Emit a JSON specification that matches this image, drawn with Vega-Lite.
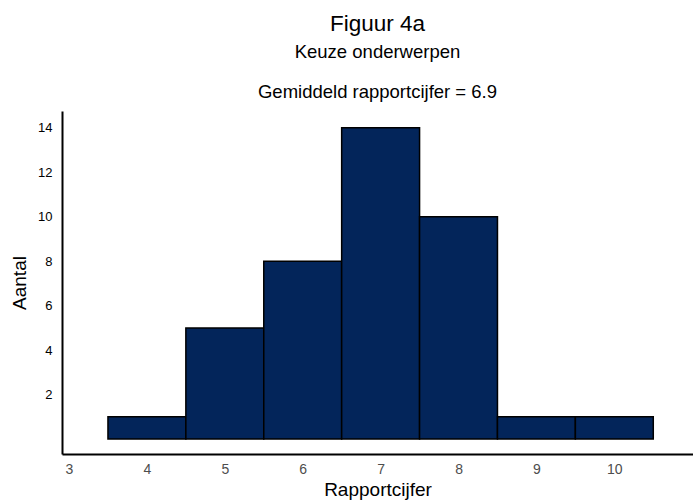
{
  "$schema": "https://vega.github.io/schema/vega-lite/v6.json",
  "width": 631,
  "height": 343,
  "autosize": {"type": "none"},
  "padding": {"left": 62, "top": 111, "right": 0, "bottom": 48},
  "background": "white",
  "config": {"view": {"stroke": null}},
  "title": {
    "text": "Figuur 4a",
    "subtitle": ["Keuze onderwerpen", "Gemiddeld rapportcijfer = 6.9"],
    "anchor": "middle",
    "font": "Liberation Sans",
    "fontSize": 22.5,
    "fontWeight": "normal",
    "color": "black",
    "subtitleFont": "Liberation Sans",
    "subtitleFontSize": 18.5,
    "subtitleColor": "black",
    "subtitlePadding": 7,
    "subtitleLineHeight": 40,
    "offset": 10
  },
  "data": {
    "values": [
      {"lo": 3.5, "hi": 4.5, "n": 1},
      {"lo": 4.5, "hi": 5.5, "n": 5},
      {"lo": 5.5, "hi": 6.5, "n": 8},
      {"lo": 6.5, "hi": 7.5, "n": 14},
      {"lo": 7.5, "hi": 8.5, "n": 10},
      {"lo": 8.5, "hi": 9.5, "n": 1},
      {"lo": 9.5, "hi": 10.5, "n": 1}
    ]
  },
  "mark": {"type": "rect", "fill": "#03255A", "stroke": "black", "strokeWidth": 1.5},
  "encoding": {
    "x": {
      "field": "lo", "type": "quantitative",
      "scale": {"domain": [2.91, 11.01], "nice": false, "zero": false},
      "axis": {
        "title": "Rapportcijfer", "values": [3,4,5,6,7,8,9,10],
        "grid": false, "ticks": false, "domainColor": "black", "domainWidth": 2,
        "labelFont": "Liberation Sans", "labelFontSize": 14, "labelColor": "#4d4d4d",
        "labelPadding": 8, "labelFlush": false,
        "titleFont": "Liberation Sans", "titleFontSize": 19, "titleFontWeight": "normal", "titleColor": "black",
        "titlePadding": 4
      }
    },
    "x2": {"field": "hi"},
    "y": {
      "field": "n", "type": "quantitative",
      "scale": {"domain": [-0.67, 14.75], "nice": false, "zero": false},
      "axis": {
        "title": "Aantal", "values": [2,4,6,8,10,12,14],
        "grid": false, "ticks": false, "domainColor": "black", "domainWidth": 2,
        "labelFont": "Liberation Sans", "labelFontSize": 13, "labelColor": "black",
        "labelPadding": 10, "labelFlush": false,
        "titleFont": "Liberation Sans", "titleFontSize": 19, "titleFontWeight": "normal", "titleColor": "black",
        "titlePadding": 8
      }
    },
    "y2": {"datum": 0}
  }
}
